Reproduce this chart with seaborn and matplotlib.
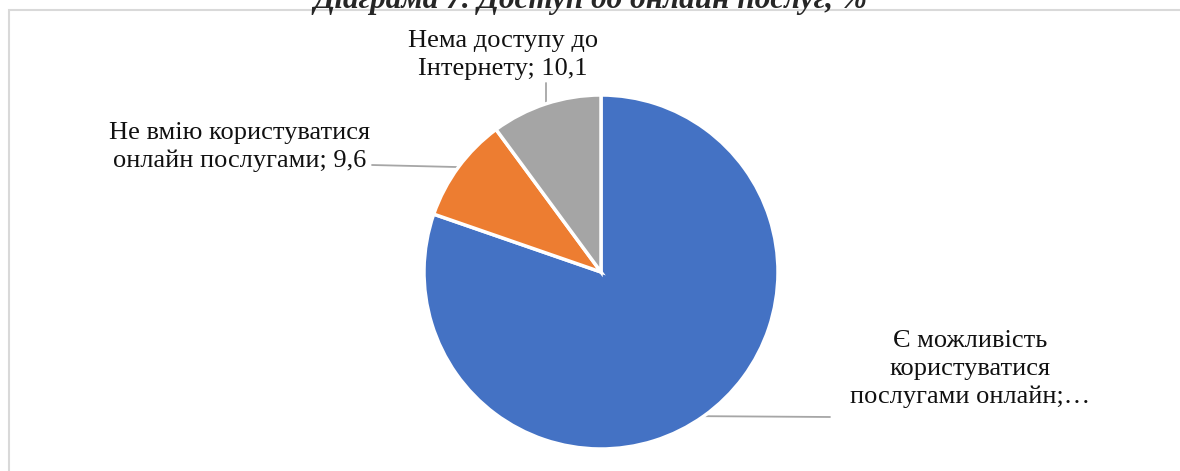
import numpy as np
import matplotlib
matplotlib.use("Agg")
import matplotlib.pyplot as plt
from matplotlib.patches import Rectangle
import seaborn as sns

# data
labels = ["Є можливість\nкористуватися\nпослугами онлайн;…",
          "Не вмію користуватися\nонлайн послугами; 9,6",
          "Нема доступу до\nІнтернету; 10,1"]
values = [80.3, 9.6, 10.1]
colors = ["#4472C4", "#ED7D31", "#A5A5A5"]
title = "Діаграма 7. Доступ до онлайн послуг, %"

sns.set_theme(style="white")
plt.rcParams['font.family'] = ['Liberation Serif', 'DejaVu Serif']

W, H = 1180, 471
fig = plt.figure(figsize=(W / 100, H / 100), dpi=100)
ax = fig.add_axes([0, 0, 1, 1])

# chart frame (runs past the right and bottom edges)
fig.patches.append(Rectangle((9 / W, -0.1), 1.2, (H - 10) / H + 0.1,
                             transform=fig.transFigure, fill=False,
                             edgecolor="#D9D9D9", linewidth=1.5))

cx, cy, r = 601, H - 272, 177
wedges, _ = ax.pie(values, colors=colors, startangle=90, counterclock=False,
                   center=(cx, cy), radius=r, frame=True,
                   wedgeprops=dict(edgecolor="white", linewidth=2.5))
ax.set_xlim(0, W)
ax.set_ylim(0, H)
ax.set_aspect("equal")
ax.axis("off")

# label text centre and where the leader line ends (top-down pixel coords)
text_pos = [(970, 369), (240, 147), (503, 55)]
line_end = [(830, 417), (372, 165), (None, 83)]

for w, lab, (tx, ty), (lx, ly) in zip(wedges, labels, text_pos, line_end):
    ang = np.deg2rad((w.theta1 + w.theta2) / 2)
    ex, ey = cx + r * np.cos(ang), cy + r * np.sin(ang)
    if lx is None:
        lx = ex
    ax.plot([ex, lx], [ey, H - ly], color="#A6A6A6", lw=1.3, zorder=0)
    ax.text(tx, H - ty, lab, ha="center", va="center", fontsize=19,
            linespacing=1.33, color="#111111")

# title, cut off by the top edge as in the source
fig.text(590 / W, 1 - 8 / H, title, ha="center", va="baseline",
         fontsize=22.5, fontweight="bold", fontstyle="italic")

fig.savefig("out.png", dpi=100)
